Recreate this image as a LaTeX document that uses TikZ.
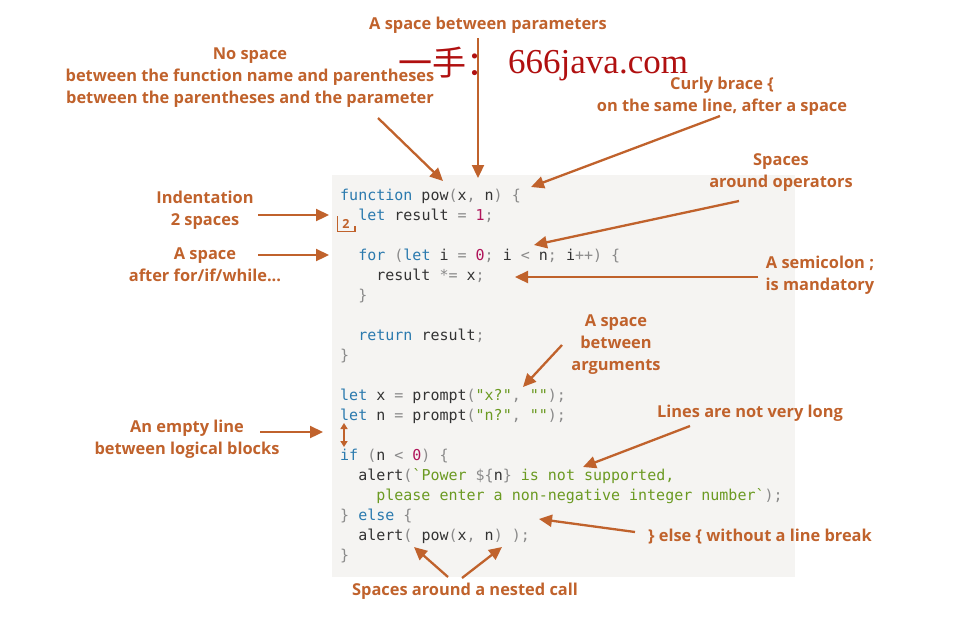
\documentclass[tikz,border=0pt]{standalone}
\usepackage{fontspec}
\setmainfont{Open Sans}
\setmonofont{DejaVu Sans Mono}
\newfontfamily\cjkf{Noto Sans CJK SC}
\newfontfamily\wmf{Liberation Serif}
\usetikzlibrary{arrows.meta}
\definecolor{ann}{HTML}{C0622C}
\definecolor{codebg}{HTML}{F5F4F2}
\definecolor{codetx}{HTML}{333333}
\definecolor{kwc}{HTML}{2B7AAE}
\definecolor{puc}{HTML}{8A8A8A}
\definecolor{stc}{HTML}{6B9A22}
\definecolor{nuc}{HTML}{B0145A}
\definecolor{wmc}{HTML}{B01010}
\newcommand{\cK}[1]{\textcolor{kwc}{#1}}
\newcommand{\cP}[1]{\textcolor{puc}{#1}}
\newcommand{\cS}[1]{\textcolor{stc}{#1}}
\newcommand{\cN}[1]{\textcolor{nuc}{#1}}
\tikzset{
  code/.style={font=\ttfamily\fontsize{15}{16}\selectfont, text=codetx, inner sep=0pt, anchor=base west},
  annot/.style={font=\bfseries\fontsize{16.4}{22}\selectfont, text=ann, align=center, inner sep=0pt},
  arr/.style={draw=ann, line width=2.3pt, -{Triangle[length=13pt,width=12pt]}},
  darr/.style={draw=ann, line width=1.8pt, {Triangle[length=6pt,width=7pt]}-{Triangle[length=6pt,width=7pt]}}
}
\begin{document}
\begin{tikzpicture}[x=1pt,y=-1pt]
\useasboundingbox (0,0) rectangle (959,625);
\fill[codebg] (332,175) rectangle (795,577);

% watermark
\node[font=\cjkf\fontsize{34}{34}\selectfont, text=wmc, inner sep=0pt, anchor=base west] (wm1) at (398,75) {一手：};
\node[font=\wmf\fontsize{35}{35}\selectfont, text=wmc, inner sep=0pt, anchor=base west] (wm2) at (508,73) {666java.com};

% code lines
\node[code] (l1)  at (340,200) {\cK{function} pow\cP{(}x\cP{,} n\cP{)} \cP{\{}};
\node[code] (l2)  at (358.1,220) {\cK{let} result \cP{=} \cN{1}\cP{;}};
\node[code] (l4)  at (358.1,260) {\cK{for} \cP{(}\cK{let} i \cP{=} \cN{0}\cP{;} i \cP{<} n\cP{;} i\cP{++)} \cP{\{}};
\node[code] (l5)  at (376.1,280) {result \cP{*=} x\cP{;}};
\node[code] (l6)  at (358.1,300) {\cP{\}}};
\node[code] (l8)  at (358.1,340) {\cK{return} result\cP{;}};
\node[code] (l9)  at (340,360) {\cP{\}}};
\node[code] (l11) at (340,400) {\cK{let} x \cP{=} prompt\cP{(}\cS{"x?"}\cP{,} \cS{""}\cP{);}};
\node[code] (l12) at (340,420) {\cK{let} n \cP{=} prompt\cP{(}\cS{"n?"}\cP{,} \cS{""}\cP{);}};
\node[code] (l14) at (340,460) {\cK{if} \cP{(}n \cP{<} \cN{0}\cP{)} \cP{\{}};
\node[code] (l15) at (358.1,480) {alert\cP{(}\cS{\symbol{96}Power}\ \cP{\$\{}n\cP{\}} \cS{is not supported,}};
\node[code] (l16) at (376.1,500) {\cS{please enter a non-negative integer number\symbol{96}}\cP{);}};
\node[code] (l17) at (340,520) {\cP{\}} \cK{else} \cP{\{}};
\node[code] (l18) at (358.1,540) {alert\cP{(} pow\cP{(}x\cP{,} n\cP{)} \cP{);}};
\node[code] (l19) at (340,560) {\cP{\}}};

% indentation marker
\node[font=\bfseries\fontsize{12.5}{12.5}\selectfont, text=ann, inner sep=0pt] (two) at (346,223.5) {2};
\draw[ann, line width=1.7pt] (337.5,216) -- (337.5,231.5) -- (355,231.5) -- (355,225.5);

% annotations
\node[annot] (aP) at (488,25) {A space between parameters};
\node[annot] (aN) at (250,78) {No space\\between the function name and parentheses\\between the parentheses and the parameter};
\node[annot] (aC) at (722,96) {Curly brace \{\\on the same line, after a space};
\node[annot] (aS) at (781,173) {Spaces\\around operators};
\node[annot] (aI) at (205,210) {Indentation\\2 spaces};
\node[annot] (aF) at (205,265) {A space\\after for/if/while...};
\node[annot] (aM) at (820,275) {A semicolon ;\\is mandatory};
\node[annot] (aA) at (616,345) {A space\\between\\arguments};
\node[annot] (aE) at (187,439) {An empty line\\between logical blocks};
\node[annot] (aL) at (750,413) {Lines are not very long};
\node[annot] (aB) at (760,537) {\} else \{ without a line break};
\node[annot] (aZ) at (465,591) {Spaces around a nested call};

% arrow coordinates
\coordinate (sP) at (478,38);  \coordinate (tP) at (478,178);
\coordinate (sN) at (378,118); \coordinate (tN) at (443,181);
\coordinate (sC) at (720,116); \coordinate (tC) at (531,187);
\coordinate (sS) at (739,201); \coordinate (tS) at (534,245);
\coordinate (sI) at (258,215); \coordinate (tI) at (329,215);
\coordinate (sF) at (258,255); \coordinate (tF) at (329,255);
\coordinate (sM) at (758,277); \coordinate (tM) at (515,277);
\coordinate (sA) at (562,345); \coordinate (tA) at (523,387);
\coordinate (sE) at (260,432); \coordinate (tE) at (323,432);
\coordinate (sL) at (690,426); \coordinate (tL) at (583,467);
\coordinate (sB) at (635,532); \coordinate (tB) at (539,519);
\coordinate (sZ1) at (448,577); \coordinate (tZ1) at (414,547);
\coordinate (sZ2) at (462,578); \coordinate (tZ2) at (502,547);
\coordinate (dA) at (344,423); \coordinate (dB) at (344,447);

\draw[arr] (sP) -- (tP);
\draw[arr] (sN) -- (tN);
\draw[arr] (sC) -- (tC);
\draw[arr] (sS) -- (tS);
\draw[arr] (sI) -- (tI);
\draw[arr] (sF) -- (tF);
\draw[arr] (sM) -- (tM);
\draw[arr] (sA) -- (tA);
\draw[arr] (sE) -- (tE);
\draw[arr] (sL) -- (tL);
\draw[arr] (sB) -- (tB);
\draw[arr] (sZ1) -- (tZ1);
\draw[arr] (sZ2) -- (tZ2);
\draw[darr] (dA) -- (dB);
\end{tikzpicture}
\end{document}
